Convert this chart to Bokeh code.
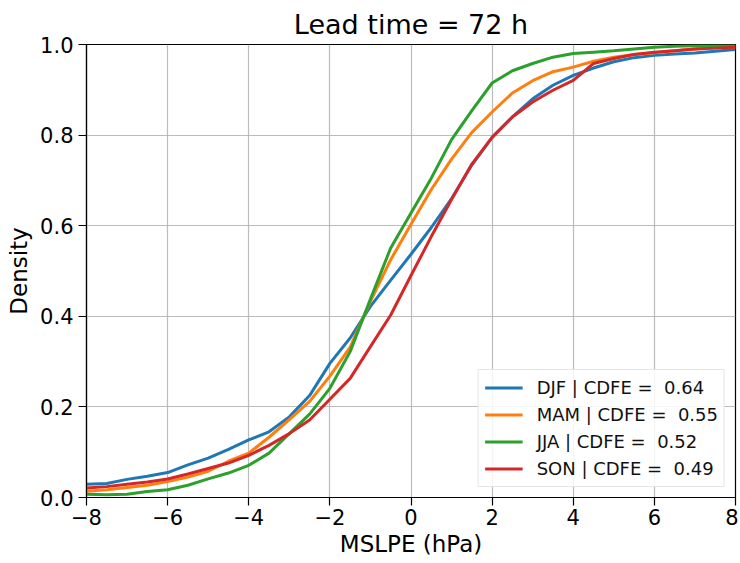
from bokeh.plotting import figure
from bokeh.models import FixedTicker, NumeralTickFormatter, Range1d
from bokeh.embed import file_html
from bokeh.resources import INLINE

# ---- data ----
mslpe = [-8.0, -7.5, -7.0, -6.5, -6.0, -5.5, -5.0, -4.5, -4.0, -3.5, -3.0, -2.5, -2.0, -1.5, -1.0, -0.5,
         0.0, 0.5, 1.0, 1.5, 2.0, 2.5, 3.0, 3.5, 4.0, 4.5, 5.0, 5.5, 6.0, 6.5, 7.0, 7.5, 8.0]

djf = [0.029, 0.031, 0.040, 0.047, 0.055, 0.072, 0.087, 0.106, 0.127, 0.145, 0.178, 0.225, 0.296, 0.352, 0.422, 0.480,
       0.537, 0.596, 0.660, 0.734, 0.795, 0.840, 0.880, 0.910, 0.932, 0.948, 0.962, 0.971, 0.976, 0.979, 0.981, 0.985, 0.989]
mam = [0.014, 0.017, 0.022, 0.027, 0.035, 0.045, 0.058, 0.080, 0.098, 0.133, 0.172, 0.212, 0.268, 0.332, 0.433, 0.525,
       0.603, 0.680, 0.747, 0.806, 0.851, 0.893, 0.920, 0.940, 0.950, 0.963, 0.972, 0.978, 0.982, 0.986, 0.990, 0.993, 0.994]
jja = [0.007, 0.006, 0.007, 0.013, 0.017, 0.027, 0.041, 0.054, 0.071, 0.098, 0.141, 0.184, 0.241, 0.322, 0.438, 0.551,
       0.628, 0.705, 0.790, 0.854, 0.915, 0.942, 0.958, 0.972, 0.980, 0.983, 0.986, 0.990, 0.994, 0.996, 0.997, 0.997, 0.997]
son = [0.021, 0.024, 0.029, 0.034, 0.041, 0.052, 0.064, 0.076, 0.093, 0.115, 0.141, 0.171, 0.217, 0.263, 0.333, 0.403,
       0.490, 0.576, 0.658, 0.736, 0.795, 0.840, 0.873, 0.899, 0.921, 0.958, 0.969, 0.978, 0.983, 0.986, 0.990, 0.992, 0.994]

seasons = ["DJF", "MAM", "JJA", "SON"]
cdfe = ["0.64", "0.55", "0.52", "0.49"]
series = [djf, mam, jja, son]
colors = ["#1f77b4", "#ff7f0e", "#2ca02c", "#d62728"]

x_ticks = [-8, -6, -4, -2, 0, 2, 4, 6, 8]
y_ticks = [0.0, 0.2, 0.4, 0.6, 0.8, 1.0]

FONT = "DejaVu Sans"

p = figure(width=738, height=560, output_backend="svg", toolbar_location=None,
           x_range=Range1d(-8, 8), y_range=Range1d(0, 1),
           min_border_left=86, min_border_right=3, min_border_top=44, min_border_bottom=63,
           title="Lead time = 72 h")

p.title.text_font = FONT
p.title.text_font_size = "27px"
p.title.text_font_style = "normal"
p.title.align = "center"
p.title.text_color = "black"

for name, c, ys, col in zip(seasons, cdfe, series, colors):
    p.line(mslpe, ys, line_color=col, line_width=3, legend_label=f"{name} | CDFE =  {c}")

# axes
p.xaxis.ticker = FixedTicker(ticks=x_ticks)
p.xaxis.major_label_overrides = {t: (("\u2212" + str(abs(t))) if t < 0 else str(t)) for t in x_ticks}
p.yaxis.ticker = FixedTicker(ticks=y_ticks)
p.yaxis.formatter = NumeralTickFormatter(format="0.0")
p.xaxis.axis_label = "MSLPE (hPa)"
p.yaxis.axis_label = "Density"

for ax in (p.xaxis, p.yaxis):
    ax.axis_label_text_font = FONT
    ax.axis_label_text_font_size = "23px"
    ax.axis_label_text_font_style = "normal"
    ax.axis_label_text_color = "black"
    ax.major_label_text_font = FONT
    ax.major_label_text_font_size = "21px"
    ax.major_label_text_color = "black"
    ax.axis_line_color = "black"
    ax.axis_line_width = 1.2
    ax.major_tick_line_color = "black"
    ax.major_tick_line_width = 1.2
    ax.major_tick_out = 8
    ax.major_tick_in = 0
    ax.minor_tick_line_color = None

p.xaxis.major_label_standoff = 3
p.xaxis.axis_label_standoff = 3
p.yaxis.major_label_standoff = 5
p.yaxis.axis_label_standoff = 5

p.xgrid.ticker = FixedTicker(ticks=x_ticks)
p.ygrid.ticker = FixedTicker(ticks=y_ticks)
p.grid.grid_line_color = "#b0b0b0"
p.grid.grid_line_width = 1.2
p.grid.grid_line_alpha = 0.85

p.outline_line_color = "black"
p.outline_line_width = 1.2
p.background_fill_color = "white"
p.border_fill_color = "white"

# legend
p.legend.location = "bottom_right"
p.legend.margin = 10
p.legend.label_text_font = FONT
p.legend.label_text_font_size = "18px"
p.legend.label_text_color = "#111111"
p.legend.glyph_width = 38
p.legend.glyph_height = 23
p.legend.label_height = 23
p.legend.label_standoff = 14
p.legend.padding = 6
p.legend.spacing = 4
p.legend.border_line_color = "#cccccc"
p.legend.border_line_width = 1
p.legend.background_fill_alpha = 0.85

open("out.html", "w").write(file_html(p, INLINE))
